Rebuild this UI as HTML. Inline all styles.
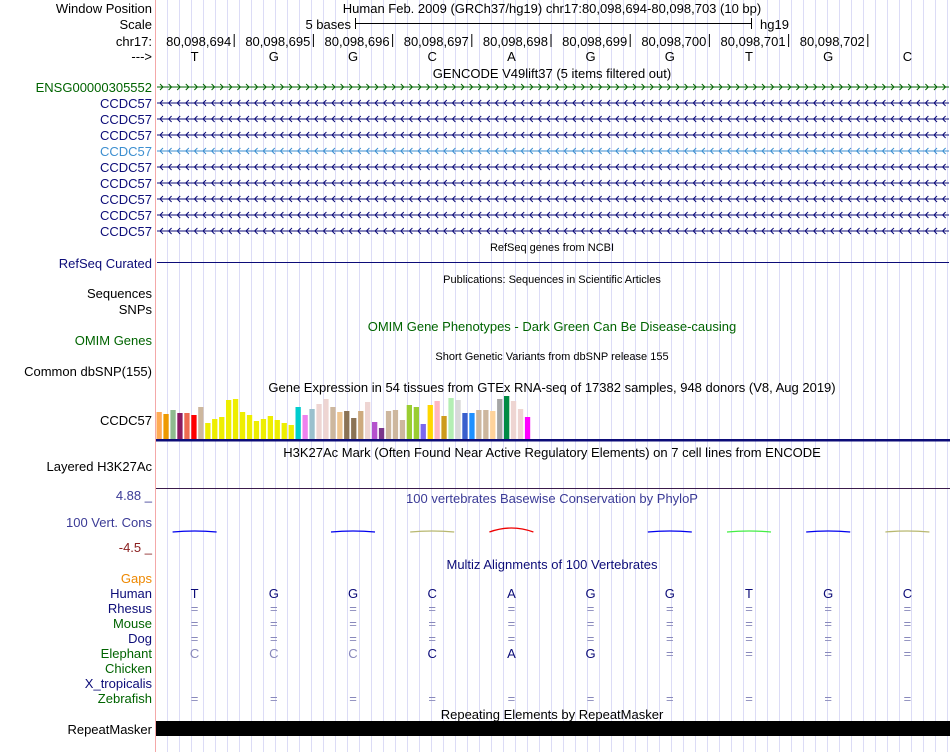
<!DOCTYPE html>
<html><head><meta charset="utf-8"><style>
body{margin:0;background:#fff}
svg{display:block;font-family:"Liberation Sans",sans-serif}
</style></head><body>
<svg id="s" width="950" height="752" viewBox="0 0 950 752">
<g id="grid"></g>
<line x1="155.5" y1="0" x2="155.5" y2="752" stroke="#f4a8a8"/>
<g id="main" font-size="13"></g>
</svg>
<script>
const NS='http://www.w3.org/2000/svg';
const bases=['T','G','G','C','A','G','G','T','G','C'];
const positions=['80,098,694','80,098,695','80,098,696','80,098,697','80,098,698','80,098,699','80,098,700','80,098,701','80,098,702'];
const gtexValues=[27,25,29,26,26,24,32,16,20,22,39,40,27,24,18,20,23,19,16,14,32,24,30,35,40,32,27,28,21,28,37,17,11,28,29,19,34,32,15,34,38,23,41,39,26,26,29,29,28,40,43,38,30,22];
const gtexColors=['#ffaa55','#ee9900','#8fbc8f','#8b1c62','#ee6a50','#ff0000','#cdb79e','#eeee00','#eeee00','#eeee00','#eeee00','#eeee00','#eeee00','#eeee00','#eeee00','#eeee00','#eeee00','#eeee00','#eeee00','#eeee00','#00cdcd','#ee82ee','#9ac0cd','#eed5d2','#eed5d2','#cdb79e','#eec591','#8b7355','#8b7355','#cdaa7d','#eed5d2','#b452cd','#7a378b','#cdb79e','#cdb79e','#cdb79e','#9acd32','#9acd32','#7b68ee','#ffd700','#ffb6c1','#cd9b1d','#b4eeb4','#d9d9d9','#3a5fcd','#1e90ff','#cdb79e','#cdb79e','#ffd39b','#a6a6a6','#008b45','#eed5d2','#eed5d2','#ff00ff'];
const rowLabels=[['Window Position',13,'#000'],['Scale',29,'#000'],['chr17:',46,'#000'],['--->',61,'#000'],['ENSG00000305552',92,'#006400'],
['CCDC57',108,'#0c0c78'],['CCDC57',124,'#0c0c78'],['CCDC57',140,'#0c0c78'],['CCDC57',156,'#3d8fd0'],['CCDC57',172,'#0c0c78'],['CCDC57',188,'#0c0c78'],['CCDC57',204,'#0c0c78'],['CCDC57',220,'#0c0c78'],['CCDC57',236,'#0c0c78'],
['RefSeq Curated',268,'#0c0c78'],['Sequences',298,'#000'],['SNPs',314,'#000'],['OMIM Genes',345,'#006400'],['Common dbSNP(155)',376,'#000'],['CCDC57',425,'#000'],['Layered H3K27Ac',471,'#000'],
['100 Vert. Cons',527,'#3b3b96'],['Gaps',583,'#ee8800'],['Human',598,'#0c0c78'],['Rhesus',613,'#0c0c78'],['Mouse',628,'#006400'],['Dog',643,'#0c0c78'],['Elephant',658,'#006400'],['Chicken',673,'#006400'],['X_tropicalis',688,'#0c0c78'],['Zebrafish',703,'#006400'],['RepeatMasker',734,'#000']];
const titles=[['GENCODE V49lift37 (5 items filtered out)',78,13,'#000'],['RefSeq genes from NCBI',251,11,'#000'],['Publications: Sequences in Scientific Articles',283,11,'#000'],['OMIM Gene Phenotypes - Dark Green Can Be Disease-causing',331,13,'#006400'],['Short Genetic Variants from dbSNP release 155',360,11,'#000'],['Gene Expression in 54 tissues from GTEx RNA-seq of 17382 samples, 948 donors (V8, Aug 2019)',392,13,'#000'],['H3K27Ac Mark (Often Found Near Active Regulatory Elements) on 7 cell lines from ENCODE',457,13,'#000'],['100 vertebrates Basewise Conservation by PhyloP',503,13,'#3b3b96'],['Multiz Alignments of 100 Vertebrates',569,13,'#0c0c78'],['Repeating Elements by RepeatMasker',719,13,'#000']];
const m=document.getElementById('main');
function el(t,a,p){const e=document.createElementNS(NS,t);for(const k in a)e.setAttribute(k,a[k]);(p||m).appendChild(e);return e;}
function txt(s,a,p){const e=el('text',a,p);e.textContent=s;return e;}
const X0=155, BW=79.2;
const bx=i=>X0+BW*(i+0.5);
const g=document.getElementById('grid');
for(let x=167.5;x<950;x+=12){const l=el('line',{x1:x,y1:0,x2:x,y2:752,stroke:'#dcdcf6'},g);}
for(const [s,y,c] of rowLabels){const t=txt(s,{x:152,y:y,'text-anchor':'end',fill:c});}
for(const [s,y,fs,c] of titles){const t=txt(s,{x:552,y:y,'text-anchor':'middle',fill:c,'font-size':fs});}
let t=txt('Human Feb. 2009 (GRCh37/hg19)   chr17:80,098,694-80,098,703 (10 bp)',{x:552,y:13,'text-anchor':'middle','xml:space':'preserve'});

t=txt('5 bases',{x:351,y:29,'text-anchor':'end'});
t=el('path',{d:'M355.5 18v11M355.5 23.5H751.5M751.5 18v11',stroke:'#000',fill:'none'});
t=txt('hg19',{x:760,y:29});
positions.forEach((p,i)=>{const x=X0+BW*(i+1);
 const a=txt(p,{x:x-3,y:46,'text-anchor':'end'});
 const l=el('line',{x1:x,y1:34,x2:x,y2:47,stroke:'#000'});});
bases.forEach((b,i)=>{const a=txt(b,{x:bx(i),y:61,'text-anchor':'middle'});});
function gene(y,color,dir){const gg=el('g',{});
 el('line',{x1:157,y1:y,x2:949,y2:y,stroke:color},gg);let d='';
 for(let x=160;x<948;x+=8.6){d+=dir>0?`M${x} ${y-3}l3 3l-3 3`:`M${x+3} ${y-3}l-3 3l3 3`;}
 el('path',{d:d,stroke:color,fill:'none','stroke-width':1},gg);}
gene(87,'#006400',1);
[103,119,135,151,167,183,199,215,231].forEach((y,i)=>gene(y,i==3?'#3d8fd0':'#0c0c78',-1));
t=el('line',{x1:157,y1:262.5,x2:949,y2:262.5,stroke:'#0c0c78'});
const base=439, step=6.95;
gtexValues.forEach((v,i)=>{const r=el('rect',{x:(156.5+i*step).toFixed(1),y:base-v,width:5.3,height:v,fill:gtexColors[i]});});
t=el('rect',{x:156,y:439,width:794,height:2.5,fill:'#0c0c78'});
t=el('line',{x1:156,y1:488.5,x2:950,y2:488.5,stroke:'#3a1a4a'});
t=txt('4.88 _',{x:152,y:500,'text-anchor':'end',fill:'#3b3b96'});
t=txt('-4.5 _',{x:152,y:552,'text-anchor':'end',fill:'#8b2020'});
const phyCol=['#0000ee','','#0000ee','#b8b870','#ee0000','','#0000ee','#44ee44','#0000ee','#b8b870'];
phyCol.forEach((c,i)=>{if(!c)return;const p=el('path',{d:`M${bx(i)-22} 532Q${bx(i)} ${i==4?524:530} ${bx(i)+22} 532`,stroke:c,fill:'none','stroke-width':1.3});});
bases.forEach((b,i)=>{const a=txt(b,{x:bx(i),y:598,'text-anchor':'middle',fill:'#0c0c78'});
 [613,628,643,703].forEach(y=>{const e=txt('=',{x:bx(i),y:y,'text-anchor':'middle',fill:'#8888bb'});});
 let eb=i<3?'C':i<6?['C','A','G'][i-3]:'=';const e=txt(eb,{x:bx(i),y:658,'text-anchor':'middle',fill:i<3||i>5?'#8888bb':'#0c0c78'});});
t=el('rect',{x:156,y:721,width:794,height:15,fill:'#000'});
</script>
</body></html>
